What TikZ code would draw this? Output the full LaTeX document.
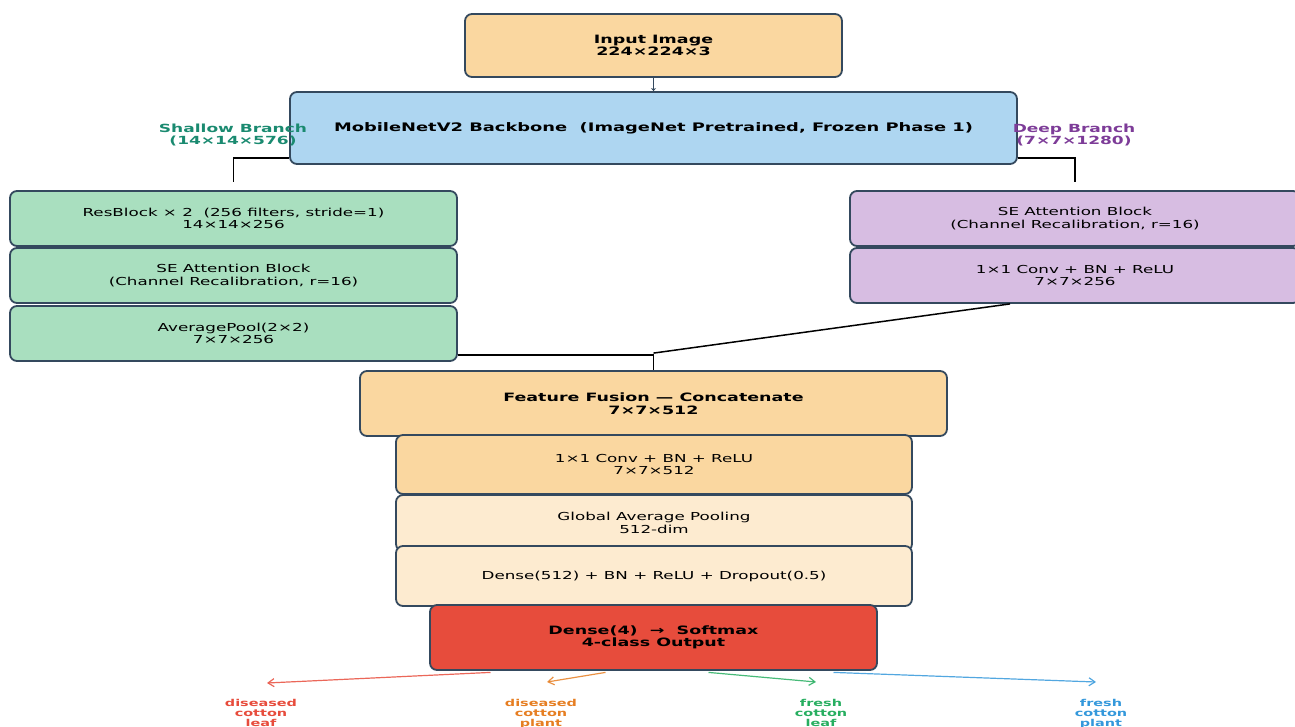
\documentclass[tikz,border=0pt]{standalone}
\usepackage{fontspec}
\setmainfont[FakeStretch=1.52]{DejaVu Sans}
\usetikzlibrary{arrows.meta}

\definecolor{edge}{HTML}{34495E}
\definecolor{peach}{HTML}{FAD7A0}
\definecolor{cream}{HTML}{FDEBD0}
\definecolor{sky}{HTML}{AED6F1}
\definecolor{mint}{HTML}{A9DFBF}
\definecolor{lilac}{HTML}{D7BDE2}
\definecolor{tomato}{HTML}{E74C3C}
\definecolor{shallowc}{HTML}{1A8A70}
\definecolor{deepc}{HTML}{7D3C98}
\definecolor{c1}{HTML}{E74C3C}
\definecolor{c2}{HTML}{E67E22}
\definecolor{c3}{HTML}{27AE60}
\definecolor{c4}{HTML}{3498DB}

\tikzset{
  blk/.style={draw=edge, line width=1.8pt, rounded corners=7pt, align=center, inner sep=0pt},
  link/.style={line width=1.8pt},
  clsarrow/.style={line width=1.2pt, draw opacity=0.85, -{Straight Barb[length=6pt, width=8pt]}},
  clslabel/.style={anchor=north, align=center, inner sep=0pt, font=\fontsize{9.5}{10}\selectfont\bfseries},
}

\begin{document}
\begin{tikzpicture}[x=1pt, y=-1pt, font=\fontsize{11}{12.5}\selectfont]

        \useasboundingbox (0,0) rectangle (1295,726);

        \node[blk, fill=peach, minimum width=377pt, minimum height=63pt, font=\fontsize{11.5}{12.5}\selectfont\bfseries] (inp) at (653.5,45.5) {Input Image\\224×224×3};
        \node[blk, fill=sky, minimum width=727pt, minimum height=72pt, font=\fontsize{11.75}{13}\selectfont\bfseries] (bb) at (653.5,128) {MobileNetV2 Backbone \ (ImageNet Pretrained, Frozen Phase 1)};
        \draw[edge, line width=1.8pt, -{Stealth[length=3pt, width=5pt]}] (inp) -- (bb);

        \node[align=center, text=shallowc, font=\fontsize{11.2}{12.5}\selectfont\bfseries] (shallow) at (233,135) {Shallow Branch\\(14×14×576)};
        \node[align=center, text=deepc, font=\fontsize{11.2}{12.5}\selectfont\bfseries] (deep) at (1074,135) {Deep Branch\\(7×7×1280)};

        \node[blk, fill=mint, minimum width=447pt, minimum height=55pt] (res) at (233.5,218.5) {ResBlock × 2 \ (256 filters, stride=1)\\14×14×256};
        \node[blk, fill=mint, minimum width=447pt, minimum height=55pt] (sel) at (233.5,275.5) {SE Attention Block\\(Channel Recalibration, r=16)};
        \node[blk, fill=mint, minimum width=447pt, minimum height=55pt] (pool) at (233.5,333.5) {AveragePool(2×2)\\7×7×256};

        \node[blk, fill=lilac, minimum width=450pt, minimum height=55pt] (ser) at (1075,218.5) {SE Attention Block\\(Channel Recalibration, r=16)};
        \node[blk, fill=lilac, minimum width=450pt, minimum height=55pt] (convr) at (1075,275.5) {1×1 Conv + BN + ReLU\\7×7×256};

        \draw[link] ([yshift=7pt]bb.south west) -| ([yshift=8pt]res.north);
        \draw[link] ([yshift=7pt]bb.south east) -| ([yshift=8pt]ser.north);

        \node[blk, fill=peach, minimum width=587pt, minimum height=65pt, font=\fontsize{11.5}{12.5}\selectfont\bfseries] (fus) at (653.5,403.5) {Feature Fusion — Concatenate\\7×7×512};
        \coordinate (join) at ([yshift=17pt]fus.north);
        \draw[link] ([yshift=7pt]pool.south east) -| (fus.north);
        \draw[line width=1.5pt] ([xshift=-65pt]convr.south) -- (join);

        \node[blk, fill=peach, minimum width=516pt, minimum height=59pt] (conv) at (654,464.5) {1×1 Conv + BN + ReLU\\7×7×512};
        \node[blk, fill=cream, minimum width=516pt, minimum height=56pt] (gap) at (654,523) {Global Average Pooling\\512-dim};
        \node[blk, fill=cream, minimum width=516pt, minimum height=60pt] (dense) at (654,576) {Dense(512) + BN + ReLU + Dropout(0.5)};
        \node[blk, fill=tomato, minimum width=447pt, minimum height=65pt, font=\fontsize{11.5}{12.5}\selectfont\bfseries] (out) at (653.5,637.5) {Dense(4) \ → \ Softmax\\4-class Output};

        \node[clslabel, text=c1] (dl) at (261,699) {diseased\\cotton\\leaf};
        \node[clslabel, text=c2] (dp) at (541,699) {diseased\\cotton\\plant};
        \node[clslabel, text=c3] (fl) at (821,699) {fresh\\cotton\\leaf};
        \node[clslabel, text=c4] (fp) at (1101,699) {fresh\\cotton\\plant};

        \coordinate (t1) at (267,683); \coordinate (t2) at (547,682);
        \coordinate (t3) at (816,682); \coordinate (t4) at (1096,682);
        \draw[clsarrow, c1] ([xshift=-163pt, yshift=-1.5pt]out.south) -- (t1);
        \draw[clsarrow, c2] ([xshift=-48pt, yshift=-1.5pt]out.south) -- (t2);
        \draw[clsarrow, c3] ([xshift=55pt, yshift=-1.5pt]out.south) -- (t3);
        \draw[clsarrow, c4] ([xshift=180pt, yshift=-1.5pt]out.south) -- (t4);

      \end{tikzpicture}
\end{document}
